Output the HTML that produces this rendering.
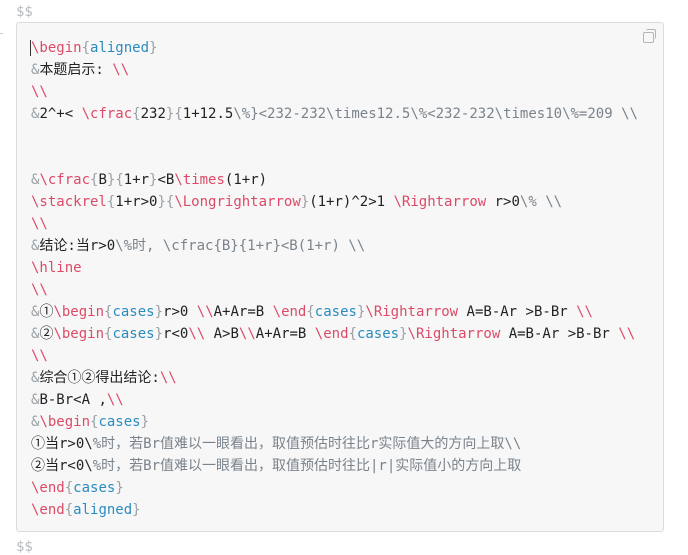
<!DOCTYPE html>
<html><head><meta charset="utf-8"><style>
html,body{margin:0;padding:0;background:#fff;width:688px;height:555px;overflow:hidden;}
.d{position:absolute;left:16px;font:14px "DejaVu Sans Mono","Liberation Mono","Noto Sans CJK SC",monospace;color:#b8bcc0;}
.box{position:absolute;left:16px;top:22px;width:648px;height:510px;background:#f7f7f7;border:1px solid #dcdcdc;border-radius:3px;box-sizing:border-box;}
pre{position:absolute;left:31px;top:37px;margin:0;font:14px/22px "DejaVu Sans Mono","Liberation Mono","Noto Sans CJK SC",monospace;color:#222;}
.r{color:#dc4a67}.b{color:#2a8bbf}.g{color:#9aa0a6}.c{color:#7a838c}
.cur{border-left:1px solid #333;margin-left:-1px}
.icon{position:absolute;left:643px;top:32px;width:9px;height:9px;border:1.5px solid #b5b5b5;border-radius:2px;}
.icon2{position:absolute;left:646px;top:29px;width:9px;height:9px;border-top:1.5px solid #b5b5b5;border-right:1.5px solid #b5b5b5;border-radius:2px;}
.tick{position:absolute;left:0;top:33px;width:3px;height:1px;background:#ccc}
</style></head><body>
<div class="d" style="top:4px">$$</div>
<div class="tick"></div>
<div class="box"></div>
<div class="icon"></div><div class="icon2"></div>
<pre><span class="r cur">\begin</span><span class="g">{</span><span class="b">aligned</span><span class="g">}</span>
<span class="g">&amp;</span>本题启示: <span class="r">\\</span>
<span class="r">\\</span>
<span class="g">&amp;</span>2^+&lt; <span class="r">\cfrac</span><span class="g">{</span>232<span class="g">}{</span>1+12.5<span class="c">\%}&lt;232-232\times12.5\%&lt;232-232\times10\%=209 \\</span>


<span class="g">&amp;</span><span class="r">\cfrac</span><span class="g">{</span>B<span class="g">}{</span>1+r<span class="g">}</span>&lt;B<span class="r">\times</span>(1+r)
<span class="r">\stackrel</span><span class="g">{</span>1+r&gt;0<span class="g">}{</span><span class="r">\Longrightarrow</span><span class="g">}</span>(1+r)^2&gt;1 <span class="r">\Rightarrow</span> r&gt;0<span class="c">\% \\</span>
<span class="r">\\</span>
<span class="g">&amp;</span>结论:当r&gt;0<span class="c">\%时, \cfrac{B}{1+r}&lt;B(1+r) \\</span>
<span class="r">\hline</span>
<span class="r">\\</span>
<span class="g">&amp;</span>①<span class="r">\begin</span><span class="g">{</span><span class="b">cases</span><span class="g">}</span>r&gt;0 <span class="r">\\</span>A+Ar=B <span class="r">\end</span><span class="g">{</span><span class="b">cases</span><span class="g">}</span><span class="r">\Rightarrow</span> A=B-Ar &gt;B-Br <span class="r">\\</span>
<span class="g">&amp;</span>②<span class="r">\begin</span><span class="g">{</span><span class="b">cases</span><span class="g">}</span>r&lt;0<span class="r">\\</span> A&gt;B<span class="r">\\</span>A+Ar=B <span class="r">\end</span><span class="g">{</span><span class="b">cases</span><span class="g">}</span><span class="r">\Rightarrow</span> A=B-Ar &gt;B-Br <span class="r">\\</span>
<span class="r">\\</span>
<span class="g">&amp;</span>综合①②得出结论:<span class="r">\\</span>
<span class="g">&amp;</span>B-Br&lt;A ,<span class="r">\\</span>
<span class="g">&amp;</span><span class="r">\begin</span><span class="g">{</span><span class="b">cases</span><span class="g">}</span>
①当r&gt;0\<span class="c">%时，若Br值难以一眼看出，取值预估时往比r实际值大的方向上取\\</span>
②当r&lt;0\<span class="c">%时，若Br值难以一眼看出，取值预估时往比|r|实际值小的方向上取</span>
<span class="r">\end</span><span class="g">{</span><span class="b">cases</span><span class="g">}</span>
<span class="r">\end</span><span class="g">{</span><span class="b">aligned</span><span class="g">}</span></pre>
<div class="d" style="top:539px">$$</div>
</body></html>
